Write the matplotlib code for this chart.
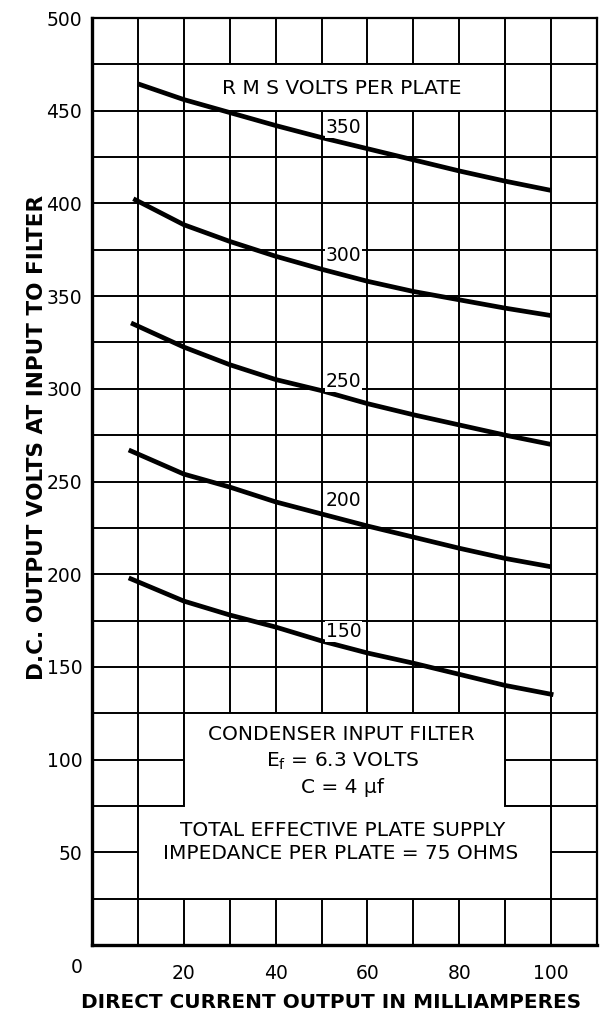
# Выходное напряжение выпрямителя в зависимости от тока нагрузки
# (конденсаторный входной фильтр)

import numpy as np
import matplotlib
matplotlib.use('Agg')
import matplotlib.pyplot as plt
from matplotlib.patches import Polygon

# ток нагрузки, мА, и напряжение на входе фильтра, В, для каждого действующего напряжения
i_350 = [10, 20, 30, 40, 50, 60, 70, 80, 90, 100]
u_350 = [464.5, 456, 449, 442, 435.5, 429.5, 423.5, 417.5, 412, 407]
i_300 = [9, 20, 30, 40, 50, 60, 70, 80, 90, 100]
u_300 = [402.5, 388.5, 379.5, 371.5, 364.5, 358, 352.5, 348, 343.5, 339.5]
i_250 = [8.5, 20, 30, 40, 50, 60, 70, 80, 90, 100]
u_250 = [335.5, 322.5, 313, 305, 299, 292, 286, 280.5, 275, 270]
i_200 = [8, 20, 30, 40, 50, 60, 70, 80, 90, 100]
u_200 = [267, 254, 247, 239, 232.5, 226, 220, 214, 208.5, 204]
i_150 = [8, 20, 30, 40, 50, 60, 70, 80, 90, 100.5]
u_150 = [198, 185.5, 178, 171.5, 164, 157.5, 152, 146, 140, 135]

curve_names = ['350', '300', '250', '200', '150']
label_y = [441, 372, 304, 239.5, 169]

x_ticks = [20, 40, 60, 80, 100]
y_ticks = [50, 100, 150, 200, 250, 300, 350, 400, 450, 500]

W, H = 604, 1017
fig = plt.figure(figsize=(W / 100, H / 100), dpi=100)
ax = fig.add_axes([92 / W, 1 - 945 / H, (597 - 92) / W, (945 - 18) / H])
ax.set_xlim(0, 110)
ax.set_ylim(0, 500)

# сетка
for x in range(10, 110, 10):
    ax.axvline(x, color='k', lw=1.4, zorder=1)
for y in range(25, 500, 25):
    ax.axhline(y, color='k', lw=1.4, zorder=1)

# белые поля под надписи
ax.add_patch(Polygon([(20, 450), (90, 450), (90, 475), (20, 475)], closed=True,
                     facecolor='white', edgecolor='k', lw=1.4, zorder=2))
ax.add_patch(Polygon([(20, 125), (90, 125), (90, 75), (100, 75), (100, 25),
                      (10, 25), (10, 75), (20, 75)], closed=True,
                     facecolor='white', edgecolor='k', lw=1.4, zorder=2))

# кривые
for xs, ys in [(i_350, u_350), (i_300, u_300), (i_250, u_250), (i_200, u_200), (i_150, u_150)]:
    ax.plot(xs, ys, color='k', lw=3.4, solid_capstyle='butt', zorder=3)

for name, yl in zip(curve_names, label_y):
    ax.text(54.8, yl, name, fontsize=13.5, ha='center', va='center', zorder=4,
            bbox=dict(facecolor='white', edgecolor='none', pad=0.5))

fs = 14.5
ax.text(54.5, 462, 'R M S VOLTS PER PLATE', fontsize=fs, ha='center', va='center', zorder=4)
ax.text(54.3, 113.8, 'CONDENSER INPUT FILTER', fontsize=fs, ha='center', va='center', zorder=4)
ax.text(54.5, 99.2, r'E$_\mathregular{f}$ = 6.3 VOLTS', fontsize=fs, ha='center', va='center', zorder=4)
ax.text(54.5, 84.7, 'C = 4 \u03bcf', fontsize=fs, ha='center', va='center', zorder=4)
ax.text(54.5, 62, 'TOTAL EFFECTIVE PLATE SUPPLY', fontsize=fs, ha='center', va='center', zorder=4)
ax.text(54.2, 49.6, 'IMPEDANCE PER PLATE = 75 OHMS', fontsize=fs, ha='center', va='center', zorder=4)

# оси
ax.set_xticks(x_ticks)
ax.set_xticklabels([str(v) for v in x_ticks])
ax.set_yticks(y_ticks)
ax.set_yticklabels([str(v) for v in y_ticks])
ax.tick_params(axis='both', length=0, labelsize=13.5)
ax.tick_params(axis='x', pad=14)
ax.tick_params(axis='y', pad=7)
ax.annotate('0', xy=(-3.3, 0), xycoords='data', xytext=(0, -16.5),
            textcoords='offset points', ha='center', va='center', fontsize=13.5,
            annotation_clip=False)

for side in ['left', 'bottom']:
    ax.spines[side].set_linewidth(2.4)
for side in ['top', 'right']:
    ax.spines[side].set_linewidth(1.6)

fig.text(331 / W, 1 - 1003 / H, 'DIRECT CURRENT OUTPUT IN MILLIAMPERES',
         fontsize=14.4, fontweight='bold', ha='center', va='center')
fig.text(37 / W, 1 - 437 / H, 'D.C. OUTPUT VOLTS AT INPUT TO FILTER',
         fontsize=15.5, fontweight='bold', ha='center', va='center', rotation=90)

fig.savefig('out.png', dpi=100)
